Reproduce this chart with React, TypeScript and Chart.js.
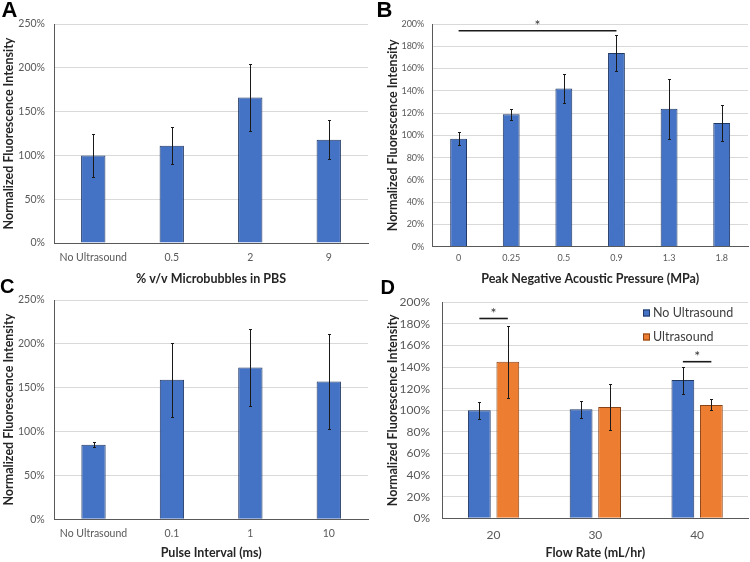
import React, { useEffect, useRef } from "react";
import { Chart, registerables } from "chart.js";

Chart.register(...registerables);

const FONT = "Lato, 'Liberation Sans', Arial, sans-serif";
const BLUE = "#4472C4";
const BLUE_EDGE = "#203864";
const ORANGE = "#ED7D31";
const ORANGE_EDGE = "#8A4416";
const TICK_COLOR = "#595959";
const TITLE_COLOR = "#262626";
const Y_TITLE = "Normalized Fluorescence Intensity";

// ---------- Panel A ----------
const aCategories = ["No Ultrasound", "0.5", "2", "9"];
const aValues = [100, 111, 166, 118];
const aErrors = [25, 21, 38, 22.5];
const aXTitle = "% v/v Microbubbles in PBS";

// ---------- Panel B ----------
const bCategories = ["0", "0.25", "0.5", "0.9", "1.3", "1.8"];
const bValues = [97, 119, 142, 174, 124, 111];
const bErrors = [6, 5, 13, 16.5, 27, 16];
const bXTitle = "Peak Negative Acoustic Pressure (MPa)";
const bMarks = [{ from: [0, 0], to: [0, 3], level: 194 }];

// ---------- Panel C ----------
const cCategories = ["No Ultrasound", "0.1", "1", "10"];
const cValues = [85, 159, 173, 157];
const cErrors = [3, 42, 44, 54];
const cXTitle = "Pulse Interval (ms)";

// ---------- Panel D ----------
const dCategories = ["20", "30", "40"];
const dSeriesNames = ["No Ultrasound", "Ultrasound"];
const dNoUltrasound = [100, 101, 128];
const dNoUltrasoundErrors = [8, 8, 12.5];
const dUltrasound = [145, 103, 105];
const dUltrasoundErrors = [33.5, 21, 5];
const dXTitle = "Flow Rate (mL/hr)";
const dMarks = [
  { from: [0, 0], to: [1, 0], level: 185 },
  { from: [0, 2], to: [1, 2], level: 145 },
];

const errorBarPlugin = {
  id: "errorBars",
  afterDatasetsDraw(chart: any) {
    const ctx = chart.ctx;
    const y = chart.scales.y;
    chart.data.datasets.forEach((ds: any, di: number) => {
      if (!ds.errors) return;
      const meta = chart.getDatasetMeta(di);
      meta.data.forEach((bar: any, i: number) => {
        const v = ds.data[i];
        const e = ds.errors[i];
        const yTop = Math.round(y.getPixelForValue(v + e)) + 0.5;
        const yBot = Math.round(y.getPixelForValue(v - e)) + 0.5;
        const x = Math.round(bar.x) + 0.5;
        ctx.save();
        ctx.strokeStyle = "#1a1a1a";
        ctx.lineWidth = 1;
        ctx.beginPath();
        ctx.moveTo(x, yTop);
        ctx.lineTo(x, yBot);
        ctx.moveTo(x - 1.5, yTop);
        ctx.lineTo(x + 1.5, yTop);
        ctx.moveTo(x - 1.5, yBot);
        ctx.lineTo(x + 1.5, yBot);
        ctx.stroke();
        ctx.restore();
      });
    });
  },
};

const significancePlugin = {
  id: "significance",
  afterDatasetsDraw(chart: any, _args: any, opts: any) {
    const marks = opts && opts.marks;
    if (!marks) return;
    const ctx = chart.ctx;
    const y = chart.scales.y;
    marks.forEach((m: any) => {
      const x1 = chart.getDatasetMeta(m.from[0]).data[m.from[1]].x;
      const x2 = chart.getDatasetMeta(m.to[0]).data[m.to[1]].x;
      const yy = y.getPixelForValue(m.level);
      ctx.save();
      ctx.strokeStyle = "#1a1a1a";
      ctx.lineWidth = 1.6;
      ctx.beginPath();
      ctx.moveTo(x1, yy);
      ctx.lineTo(x2, yy);
      ctx.stroke();
      ctx.fillStyle = "#333333";
      ctx.font = `14px ${FONT}`;
      ctx.textAlign = "center";
      ctx.textBaseline = "middle";
      ctx.fillText("*", (x1 + x2) / 2, yy - 5);
      ctx.restore();
    });
  },
};

const insideLegendPlugin = {
  id: "insideLegend",
  afterDraw(chart: any, _args: any, opts: any) {
    if (!opts || !opts.show) return;
    const ctx = chart.ctx;
    const area = chart.chartArea;
    const x0 = Math.round(area.right + opts.dx);
    chart.data.datasets.forEach((ds: any, i: number) => {
      const cy = Math.round(area.top + opts.dy + i * opts.gap);
      ctx.save();
      ctx.fillStyle = ds.backgroundColor;
      ctx.strokeStyle = ds.borderColor;
      ctx.lineWidth = 1;
      ctx.fillRect(x0, cy - 3.5, 7, 7);
      ctx.strokeRect(x0 + 0.5, cy - 3, 6, 6);
      ctx.fillStyle = "#404040";
      ctx.font = `${opts.size}px ${FONT}`;
      ctx.textAlign = "left";
      ctx.textBaseline = "middle";
      ctx.fillText(ds.label, x0 + 10, cy);
      ctx.restore();
    });
  },
};

type PanelSpec = {
  labels: string[];
  datasets: any[];
  yMax: number;
  yStep: number;
  tickSize: number;
  titleSize: number;
  xTitle: string;
  yWidth: number;
  xHeight: number;
  padTop: number;
  padRight: number;
  yTickPad: number;
  xTickPad: number;
  yTitlePad: number;
  xTitlePad: number;
  catPct: number;
  barPct: number;
  marks?: any[];
  legend?: any;
};

function makeConfig(p: PanelSpec): any {
  return {
    type: "bar",
    data: {
      labels: p.labels,
      datasets: p.datasets.map((d) => ({
        ...d,
        borderWidth: 1,
        categoryPercentage: p.catPct,
        barPercentage: p.barPct,
      })),
    },
    options: {
      animation: false,
      responsive: false,
      devicePixelRatio: 1,
      layout: { padding: { top: p.padTop, right: p.padRight, left: 0, bottom: 0 } },
      plugins: {
        legend: { display: false },
        tooltip: { enabled: false },
        significance: { marks: p.marks || [] },
        insideLegend: p.legend || { show: false },
      },
      scales: {
        x: {
          grid: { display: false, drawTicks: false },
          border: { display: true, color: "#595959", width: 1 },
          ticks: {
            color: TICK_COLOR,
            font: { family: FONT, size: p.tickSize },
            padding: p.xTickPad,
            maxRotation: 0,
            autoSkip: false,
          },
          title: {
            display: true,
            text: p.xTitle,
            color: TITLE_COLOR,
            font: { family: FONT, size: p.titleSize, weight: "bold" },
            padding: { top: 0, bottom: p.xTitlePad },
          },
          afterFit: (s: any) => {
            s.height = p.xHeight;
          },
        },
        y: {
          min: 0,
          max: p.yMax,
          grid: { color: "#d9d9d9", drawTicks: false, lineWidth: 1 },
          border: { display: true, color: "#595959", width: 1 },
          ticks: {
            stepSize: p.yStep,
            color: TICK_COLOR,
            font: { family: FONT, size: p.tickSize },
            padding: p.yTickPad,
            callback: (v: any) => v + "%",
          },
          title: {
            display: true,
            text: Y_TITLE,
            color: TITLE_COLOR,
            font: { family: FONT, size: p.titleSize, weight: "bold" },
            padding: { top: p.yTitlePad, bottom: 0 },
          },
          afterFit: (s: any) => {
            s.width = p.yWidth;
          },
        },
      },
    },
    plugins: [errorBarPlugin, significancePlugin, insideLegendPlugin],
  };
}

function Panel(props: { left: number; top: number; width: number; height: number; spec: PanelSpec }) {
  const ref = useRef<HTMLCanvasElement>(null);
  useEffect(() => {
    const chart = new Chart(ref.current as HTMLCanvasElement, makeConfig(props.spec));
    return () => chart.destroy();
  }, []);
  return (
    <canvas
      ref={ref}
      width={props.width}
      height={props.height}
      style={{ position: "absolute", left: props.left, top: props.top, width: props.width, height: props.height }}
    />
  );
}

function Letter(props: { text: string; left: number; top: number; size: number }) {
  return (
    <div
      style={{
        position: "absolute",
        left: props.left,
        top: props.top,
        fontFamily: "'Liberation Sans', Arial, sans-serif",
        fontWeight: "bold",
        fontSize: props.size,
        lineHeight: props.size + "px",
        color: "#000",
      }}
    >
      {props.text}
    </div>
  );
}

const specA: PanelSpec = {
  labels: aCategories,
  datasets: [{ label: "A", data: aValues, errors: aErrors, backgroundColor: BLUE, borderColor: BLUE_EDGE }],
  yMax: 250, yStep: 50, tickSize: 10.5, titleSize: 12.5, xTitle: aXTitle,
  yWidth: 54, xHeight: 49, padTop: 24, padRight: 7,
  yTickPad: 9, xTickPad: 8.7, yTitlePad: 1.8, xTitlePad: 5.3,
  catPct: 1, barPct: 0.31,
};

const specB: PanelSpec = {
  labels: bCategories,
  datasets: [{ label: "B", data: bValues, errors: bErrors, backgroundColor: BLUE, borderColor: BLUE_EDGE }],
  yMax: 200, yStep: 20, tickSize: 9, titleSize: 12.5, xTitle: bXTitle,
  yWidth: 57.3, xHeight: 45.3, padTop: 24, padRight: 2,
  yTickPad: 8, xTickPad: 6.2, yTitlePad: 10.3, xTitlePad: 5.3,
  catPct: 1, barPct: 0.32, marks: bMarks,
};

const specC: PanelSpec = {
  labels: cCategories,
  datasets: [{ label: "C", data: cValues, errors: cErrors, backgroundColor: BLUE, borderColor: BLUE_EDGE }],
  yMax: 250, yStep: 50, tickSize: 10.5, titleSize: 12.5, xTitle: cXTitle,
  yWidth: 54.3, xHeight: 42.7, padTop: 20, padRight: 7,
  yTickPad: 9.6, xTickPad: 8.4, yTitlePad: 1.8, xTitlePad: 1.5,
  catPct: 1, barPct: 0.31,
};

const specD: PanelSpec = {
  labels: dCategories,
  datasets: [
    { label: dSeriesNames[0], data: dNoUltrasound, errors: dNoUltrasoundErrors, backgroundColor: BLUE, borderColor: BLUE_EDGE },
    { label: dSeriesNames[1], data: dUltrasound, errors: dUltrasoundErrors, backgroundColor: ORANGE, borderColor: ORANGE_EDGE },
  ],
  yMax: 200, yStep: 20, tickSize: 12, titleSize: 12.5, xTitle: dXTitle,
  yWidth: 67.7, xHeight: 43.7, padTop: 22.3, padRight: 2,
  yTickPad: 12.7, xTickPad: 9.5, yTitlePad: 10, xTitlePad: 1.5,
  catPct: 0.56, barPct: 0.8, marks: dMarks,
  legend: { show: true, dx: -105.3, dy: 11, gap: 23.4, size: 12.5 },
};

export default function App() {
  return (
    <div style={{ position: "absolute", left: 0, top: 0, width: 750, height: 562, background: "#fff", overflow: "hidden" }}>
      <Panel left={0} top={0} width={375} height={292} spec={specA} />
      <Panel left={375} top={0} width={375} height={292} spec={specB} />
      <Panel left={0} top={280} width={375} height={282} spec={specC} />
      <Panel left={375} top={280} width={375} height={282} spec={specD} />
      <Letter text="A" left={1.5} top={-1} size={22} />
      <Letter text="B" left={376.5} top={-1} size={22} />
      <Letter text="C" left={0} top={276} size={20} />
      <Letter text="D" left={380.5} top={277} size={20} />
    </div>
  );
}
